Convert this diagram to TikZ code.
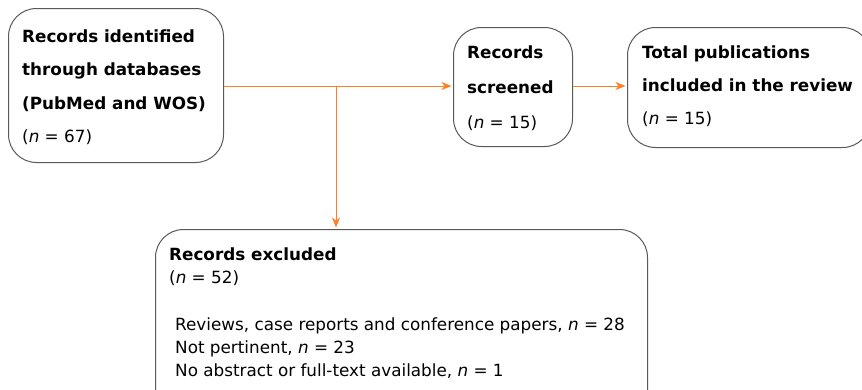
\documentclass[tikz,border=0pt]{standalone}
\usepackage{fontspec}
\setmainfont{DejaVu Sans}
\usetikzlibrary{arrows.meta}
\definecolor{flow}{HTML}{FF7F27}
\definecolor{edgegray}{HTML}{595959}
\begin{document}
\begin{tikzpicture}[x=1pt,y=-1pt,
  box/.style={draw=edgegray, line width=1pt, rounded corners=28pt, anchor=north west, inner sep=0pt},
  txt/.style={anchor=west, align=left, inner sep=0pt, font=\fontsize{16.8}{33.5}\selectfont},
  txtd/.style={anchor=west, align=left, inner sep=0pt, font=\fontsize{16.8}{23}\selectfont},
  flowline/.style={draw=flow, line width=1pt},
  tip/.style={-{Stealth[length=10pt,width=8pt,inset=3pt]}, shorten >=1.5pt}]
\useasboundingbox (0,0) rectangle (862,389);
% boxes
\node[box, minimum width=215pt, minimum height=154pt] (src) at (8,8) {};
\node[box, minimum width=119pt, minimum height=119pt] (scr) at (453,27) {};
\node[box, minimum width=243pt, minimum height=120pt] (tot) at (627,27) {};
\node[box, minimum width=492pt, minimum height=190pt] (exc) at (155,229) {};
% texts
\node[txt] (srct) at (22,87) {\textbf{Records identified}\\\textbf{through databases}\\\textbf{(PubMed and WOS)}\\(\textit{n} = 67)};
\node[txt, font=\fontsize{16.8}{35}\selectfont] (scrt) at (467,88) {\textbf{Records}\\\textbf{screened}\\(\textit{n} = 15)};
\node[txt, font=\fontsize{16.8}{33}\selectfont] (tott) at (642,86) {\textbf{Total publications}\\\textbf{included in the review}\\(\textit{n} = 15)};
\node[txtd] (exct) at (169,267) {\textbf{Records excluded}\\(\textit{n} = 52)};
\node[txtd] (excl) at (175,348.5) {Reviews, case reports and conference papers, \textit{n} = 28\\Not pertinent, \textit{n} = 23\\No abstract or full-text available, \textit{n} = 1};
% connectors
\coordinate (br) at (336,86);
\draw[flowline, tip] (src.east |- br) -- (scr.west |- br);
\draw[flowline, tip] (br) -- (br |- exc.north);
\draw[flowline, tip] (scr.east |- br) -- (tot.west |- br);
\end{tikzpicture}
\end{document}
